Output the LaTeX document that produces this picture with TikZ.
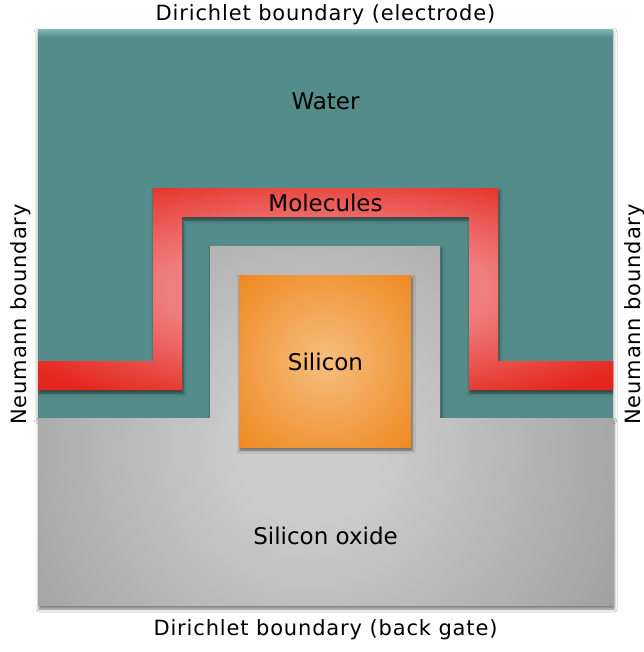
\documentclass[tikz,border=0pt]{standalone}
\usepackage{fontspec}
\setmainfont{DejaVu Sans}
\newfontfamily\bfam[LetterSpace=4]{DejaVu Sans}
\usetikzlibrary{shadows.blur}
\definecolor{water}{HTML}{538C8A}
\definecolor{waterhi}{HTML}{7DB3B1}
\definecolor{rin}{HTML}{EF7E7E}
\definecolor{rout}{HTML}{E4261C}
\definecolor{oin}{HTML}{F6BE7E}
\definecolor{oout}{HTML}{EE8820}
\definecolor{gin}{HTML}{CDCDCD}
\definecolor{gout}{HTML}{979797}
\pgfdeclareradialshading{redsh}{\pgfpoint{0bp}{0bp}}{color(0bp)=(rin); color(6.9bp)=(rin); color(16.25bp)=(rout); color(50bp)=(rout)}
\pgfdeclareradialshading{orsh}{\pgfpoint{0bp}{0bp}}{color(0bp)=(oin); color(25bp)=(oout); color(50bp)=(oout)}
\pgfdeclareradialshading{grsh}{\pgfpoint{0bp}{0bp}}{color(0bp)=(gin); color(4bp)=(gin); color(25bp)=(gout); color(50bp)=(gout)}
\def\graypath{(38,418) -- (210,418) -- (210,246) -- (440,246) -- (440,418) -- (613,418) -- (613,606) -- (38,606) -- cycle}
\def\redpath{(38,361) -- (153,361) -- (153,188) -- (498,188) -- (498,361) -- (613,361) -- (613,390) -- (469,390) -- (469,217) -- (182,217) -- (182,390) -- (38,390) -- cycle}
\begin{document}
\begin{tikzpicture}[x=1bp,y=-1bp,
  shad/.style={blur shadow={shadow xshift=1bp, shadow yshift=-3bp, shadow blur radius=3bp, shadow opacity=55}},
  inlbl/.style={font=\fontsize{23bp}{27bp}\selectfont, anchor=base, inner sep=0pt},
  bdlbl/.style={font=\bfam\fontsize{21bp}{25bp}\selectfont, anchor=base, inner sep=0pt}]
\useasboundingbox (0,0) rectangle (644,652);
\fill[white] (0,0) rectangle (644,652);
% water
\fill[water, blur shadow={shadow xshift=0bp, shadow yshift=-2bp, shadow blur radius=4bp, shadow opacity=40}] (38,30) rectangle (613,418);
\shade[top color=waterhi, bottom color=water] (38,30) rectangle (613,37);
% silicon oxide
\fill[gout, shad] \graypath;
\begin{scope}
  \clip \graypath;
  \shade[shading=grsh] (310,450) circle (400);
\end{scope}
% molecules
\begin{scope}
  \clip (38,30) rectangle (613,620);
  \fill[rout, shad] \redpath;
  \clip \redpath;
  \shade[shading=redsh] (325.5,289) ellipse [x radius=575, y radius=202];
\end{scope}
% silicon
\fill[oout, shad] (239,275) rectangle (411,447);
\begin{scope}
  \clip (239,275) rectangle (411,447);
  \shade[shading=orsh] (325,361) circle (122);
\end{scope}
% labels
\node[bdlbl] (top) at (325.5,20.5) {Dirichlet boundary (electrode)};
\node[inlbl] (water) at (325.5,109.5) {Water};
\node[inlbl] (mol) at (325.5,211.5) {Molecules};
\node[inlbl] (si) at (325.5,370) {Silicon};
\node[inlbl] (ox) at (325.5,544) {Silicon oxide};
\node[bdlbl] (bot) at (325.5,635) {Dirichlet boundary (back gate)};
\node[bdlbl, rotate=90] (left) at (26,314.5) {Neumann boundary};
\node[bdlbl, rotate=90] (right) at (640,314.5) {Neumann boundary};
\end{tikzpicture}
\end{document}
